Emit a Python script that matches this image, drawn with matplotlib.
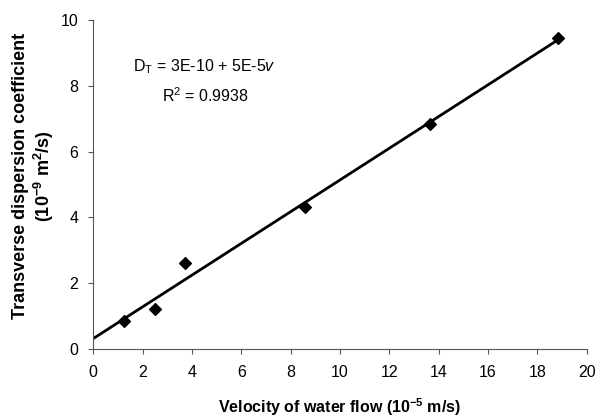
import numpy as np
import matplotlib.pyplot as plt

plt.rcParams['font.family'] = ['Liberation Sans', 'DejaVu Sans']
plt.rcParams['mathtext.fontset'] = 'custom'
plt.rcParams['mathtext.rm'] = 'Liberation Sans'
plt.rcParams['mathtext.it'] = 'Liberation Sans:italic'
plt.rcParams['mathtext.bf'] = 'Liberation Sans:bold'

# velocity (10^-5 m/s) vs transverse dispersion coefficient (10^-9 m2/s)
velocity = [1.25, 2.5, 3.73, 8.6, 13.65, 18.85]
disp_coef = [0.85, 1.22, 2.63, 4.33, 6.85, 9.45]

xticks = [0, 2, 4, 6, 8, 10, 12, 14, 16, 18, 20]
yticks = [0, 2, 4, 6, 8, 10]

# linear trend line
slope, intercept = np.polyfit(velocity, disp_coef, 1)
xfit = np.array([0, max(velocity)])
yfit = intercept + slope * xfit

fig = plt.figure(figsize=(5.97, 4.19), dpi=100)
ax = fig.add_axes([0.156, 0.167, 0.827, 0.785])

ax.plot(xfit, yfit, color='black', lw=2)
ax.scatter(velocity, disp_coef, marker='D', s=36, color='black', zorder=3)

ax.set_xlim(0, 20)
ax.set_ylim(0, 10)
ax.set_xticks(xticks)
ax.set_yticks(yticks)
ax.spines['top'].set_visible(False)
ax.spines['right'].set_visible(False)
ax.spines['left'].set_color('#555555')
ax.spines['bottom'].set_color('#555555')
ax.tick_params(direction='out', length=3.6, width=0.8, labelsize=11.5,
               colors='#555555', labelcolor='black')
ax.tick_params(axis='x', pad=8)
ax.tick_params(axis='y', pad=7)

ax.set_xlabel('Velocity of water flow (10$^{\\mathbf{-5}}$ m/s)', fontsize=11.5, fontweight='bold')
ax.set_ylabel('Transverse dispersion coefficient\n(10$^{\\mathbf{-9}}$ m$^{\\mathbf{2}}$/s)',
              fontsize=13, fontweight='bold', linespacing=1.15)
ax.xaxis.set_label_coords(0.5, -0.145)
ax.yaxis.set_label_coords(-0.076, 0.526)

ax.text(1.62, 8.57, 'D$_\\mathregular{T}$ = 3E-10 + 5E-5$\\mathit{v}$', fontsize=11.5, va='center')
ax.text(4.57, 7.7, 'R$^\\mathregular{2}$ = 0.9938', fontsize=11.5, va='center', ha='center')

fig.savefig('out.png', dpi=100)
